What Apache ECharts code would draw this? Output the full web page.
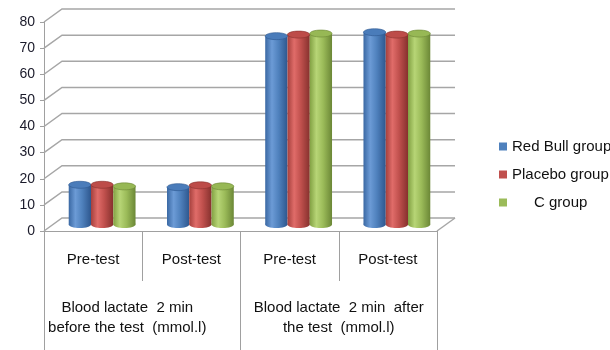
<!DOCTYPE html>
<html>
<head>
<meta charset="utf-8">
<script src="https://cdn.jsdelivr.net/npm/echarts@6/dist/echarts.min.js"></script>
<style>html,body{margin:0;padding:0;background:#fff;}#c{width:610px;height:350px;}</style>
</head>
<body>
<div id="c"></div>
<script>
// ---- data ----
const categories = ['Pre-test', 'Post-test', 'Pre-test', 'Post-test'];
const groupLabels = ['Blood lactate  2 min\nbefore the test  (mmol.l)', 'Blood lactate  2 min  after\nthe test  (mmol.l)'];
const seriesNames = ['Red Bull group', 'Placebo group', 'C group'];
const redBull = [15.2, 14.3, 72.1, 73.6];
const placebo = [15.2, 15.0, 72.7, 72.7];
const cGroup = [14.6, 14.6, 73.1, 73.1];
const yTicks = [0, 10, 20, 30, 40, 50, 60, 70, 80];

// ---- styling ----
const FONT = 'Liberation Sans';
const DX = 18, DY = -13; // depth offset of back wall
const CAT_GAP = 0.32;
const flat = ['#4f81bd', '#c0504d', '#9bbb59'];
const grads = [
  ['#3a68a3', '#6c9bd6', '#4f81bd', '#2e578e'],
  ['#a5403d', '#e06c69', '#c0504d', '#86312e'],
  ['#82a143', '#b7d576', '#9bbb59', '#6b8736']
];
const caps = ['#4a7cba', '#bd4c49', '#97b855'];
function grad(i) {
  const g = grads[i];
  return new echarts.graphic.LinearGradient(0, 0, 1, 0, [
    {offset: 0, color: g[0]}, {offset: 0.3, color: g[1]},
    {offset: 0.6, color: g[2]}, {offset: 1, color: g[3]}
  ]);
}
const values = [redBull, placebo, cGroup];

const chart = echarts.init(document.getElementById('c'));
const capData = [];
values.forEach((arr, s) => arr.forEach((v, i) => capData.push([i, s, v])));

const option = {
  animation: false,
  grid: [
    {left: 44, right: 173, top: 22, bottom: 119},
    {left: 44 + DX / 2, right: 173 - DX / 2, top: 22 + DY / 2, bottom: 119 - DY / 2}
  ],
  legend: {
    orient: 'vertical', left: 494, top: 134,
    itemWidth: 8, itemHeight: 8, itemGap: 13,
    icon: 'rect',
    textStyle: {fontFamily: FONT, fontSize: 15, color: '#111',
      rich: {c: {fontFamily: FONT, fontSize: 15, color: '#111', padding: [0, 0, 0, 22]}}},
    formatter: n => n === 'C group' ? '{c|' + n + '}' : n,
    data: seriesNames.map((n, i) => ({name: n, itemStyle: {color: flat[i]}}))
  },
  xAxis: [
    {type: 'category', gridIndex: 0, data: categories,
      axisLine: {show: true, lineStyle: {color: '#a0a0a0', width: 1}},
      axisTick: {show: true, length: 50, interval: 0, lineStyle: {color: '#a0a0a0'}},
      axisLabel: {interval: 0, margin: 21, fontFamily: FONT, fontSize: 15, color: '#111'}},
    {type: 'category', gridIndex: 0, data: groupLabels, position: 'bottom',
      axisLine: {show: false},
      axisTick: {show: true, length: 119, interval: 0, lineStyle: {color: '#a0a0a0'}},
      axisLabel: {interval: 0, margin: 67, fontFamily: FONT, fontSize: 15, color: '#111', lineHeight: 20,
        formatter: (v, i) => i === 0 ? v.split('\n').map(t => '{a|' + t + '}').join('\n') : v,
        rich: {a: {fontFamily: FONT, fontSize: 15, color: '#111', lineHeight: 20, padding: [0, 30, 0, 0]}}}},
    {type: 'category', gridIndex: 1, data: categories, show: false}
  ],
  yAxis: [
    {type: 'value', gridIndex: 0, min: 0, max: 80, interval: 10,
      axisLine: {show: true, lineStyle: {color: '#a0a0a0'}},
      axisTick: {show: true, length: 4, lineStyle: {color: '#a0a0a0'}},
      splitLine: {show: false},
      axisLabel: {margin: 9, fontFamily: FONT, fontSize: 14, color: '#1a1a2a'}},
    {type: 'value', gridIndex: 1, min: 0, max: 80, interval: 10, show: false, splitLine: {show: false}}
  ],
  series: [
    {type: 'custom', name: 'wall', xAxisIndex: 0, yAxisIndex: 0, silent: true, clip: false, z: 1,
      data: yTicks.map(v => [0, v]),
      renderItem: (params, api) => {
        const cs = params.coordSys;
        const v = api.value(1);
        const y = api.coord([0, v])[1];
        const st = {stroke: '#a6a6a6', lineWidth: 1.5, fill: null};
        const ch = [{type: 'polyline', shape: {points: [[cs.x, y], [cs.x + DX, y + DY], [cs.x + cs.width + DX, y + DY]]}, style: st}];
        if (v === 0) ch.push({type: 'line', shape: {x1: cs.x + cs.width, y1: y, x2: cs.x + cs.width + DX, y2: y + DY}, style: st});
        return {type: 'group', children: ch};
      }},
    ...seriesNames.map((n, s) => ({
      type: 'bar', name: n, xAxisIndex: 2, yAxisIndex: 1, data: values[s],
      barGap: '0%', barCategoryGap: (CAT_GAP * 100) + '%', z: 3,
      itemStyle: {color: grad(s)}
    })),
    {type: 'custom', name: 'caps', xAxisIndex: 2, yAxisIndex: 1, silent: true, clip: false, z: 4,
      data: capData,
      renderItem: (params, api) => {
        const i = api.value(0), s = api.value(1), v = api.value(2);
        const band = api.size([1, 0])[0];
        const gw = band * (1 - CAT_GAP), bw = gw / 3;
        const top = api.coord([i, v]);
        const base = api.coord([i, 0]);
        const cx = top[0] - gw / 2 + bw * (s + 0.5);
        const ry = 3.5;
        return {type: 'group', children: [
          {type: 'ellipse', shape: {cx: cx, cy: base[1], rx: bw / 2, ry: ry}, style: {fill: grad(s)}},
          {type: 'ellipse', shape: {cx: cx, cy: top[1], rx: bw / 2, ry: ry}, style: {fill: caps[s], stroke: grads[s][3], lineWidth: 0.6}}
        ]};
      }}
  ]
};
chart.setOption(option);
</script>
</body>
</html>
